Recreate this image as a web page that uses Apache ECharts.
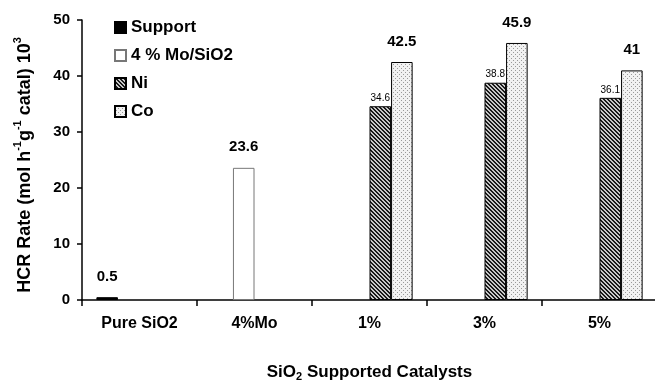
<!DOCTYPE html>
<html>
<head>
<meta charset="utf-8">
<script src="https://cdn.jsdelivr.net/npm/echarts@6/dist/echarts.min.js"></script>
<style>
html,body{margin:0;padding:0;background:#fff;}
#chart{width:655px;height:381px;}
</style>
</head>
<body>
<div id="chart"></div>
<script>
const categories = ['Pure SiO2', '4%Mo', '1%', '3%', '5%'];
const supportValues = [0.5, null, null, null, null];
const moValues = [null, 23.6, null, null, null];
const niValues = [null, null, 34.6, 38.8, 36.1];
const coValues = [null, null, 42.5, 45.9, 41];
const yTicks = { min: 0, max: 50, interval: 10 };

function makePattern(size, bg, fg, test) {
  const c = document.createElement('canvas');
  c.width = size; c.height = size;
  const ctx = c.getContext('2d');
  ctx.fillStyle = bg; ctx.fillRect(0, 0, size, size);
  ctx.fillStyle = fg;
  for (let x = 0; x < size; x++) for (let y = 0; y < size; y++) if (test(x, y)) ctx.fillRect(x, y, 1, 1);
  return { image: c, repeat: 'repeat' };
}
const hatch = makePattern(4, '#c8c8c8', '#1a1a1a', (x, y) => ((x - y + 8) % 4) < 2);
const dots = makePattern(4, '#f2f2f2', '#9a9a9a', (x, y) => (x === 1 && y === 0) || (x === 3 && y === 2));

const font = '"Liberation Sans", Arial, sans-serif';
const bigLabel = { show: true, position: 'top', distance: 13, fontFamily: font, fontWeight: 'bold', fontSize: 15, color: '#000' };

const chart = echarts.init(document.getElementById('chart'), null, { renderer: 'canvas' });
chart.setOption({
  animation: false,
  backgroundColor: '#fff',
  textStyle: { fontFamily: font },
  grid: { left: 82, top: 20, width: 575, bottom: 81, containLabel: false, outerBoundsMode: 'none' },
  legend: {
    orient: 'vertical', left: 109, top: 14, itemWidth: 11, itemHeight: 11, itemGap: 11, icon: 'rect',
    textStyle: { fontFamily: font, fontWeight: 'bold', fontSize: 17, color: '#000' },
    data: ['Support', '4 % Mo/SiO2', 'Ni', 'Co']
  },
  xAxis: {
    type: 'category', data: categories,
    axisLine: { lineStyle: { color: '#000', width: 1.5 } },
    axisTick: { show: true, length: 6, lineStyle: { color: '#000', width: 1.5 } },
    axisLabel: { margin: 16, fontFamily: font, fontWeight: 'bold', fontSize: 16, color: '#000' },
    name: '{n|SiO}{b|2}{n| Supported Catalysts}',
    nameLocation: 'middle', nameGap: 62,
    nameTextStyle: {
      rich: {
        n: { fontFamily: font, fontWeight: 'bold', fontSize: 17, color: '#000', lineHeight: 20, verticalAlign: 'middle' },
        b: { fontFamily: font, fontWeight: 'bold', fontSize: 11, color: '#000', lineHeight: 20, verticalAlign: 'bottom', padding: [7, 0, 0, 0] }
      }
    }
  },
  yAxis: {
    type: 'value', min: yTicks.min, max: yTicks.max, interval: yTicks.interval,
    splitLine: { show: false },
    axisLine: { show: true, lineStyle: { color: '#000', width: 1.5 } },
    axisTick: { show: true, length: 5, lineStyle: { color: '#000', width: 1.5 } },
    axisLabel: { margin: 12, fontFamily: font, fontWeight: 'bold', fontSize: 15, color: '#000' },
    name: '{n|HCR Rate (mol h}{s|-1}{n|g}{s|-1}{n| catal) 10}{s|3}',
    nameLocation: 'middle', nameGap: 48, nameRotate: 90,
    nameTextStyle: {
      padding: [0, 10, 0, 0],
      rich: {
        n: { fontFamily: font, fontWeight: 'bold', fontSize: 18, color: '#000', lineHeight: 22, verticalAlign: 'bottom' },
        s: { fontFamily: font, fontWeight: 'bold', fontSize: 11, color: '#000', lineHeight: 22, verticalAlign: 'top' }
      }
    }
  },
  series: [
    { name: 'Support', type: 'bar', data: supportValues, barGap: '0%', barCategoryGap: '25%',
      itemStyle: { color: '#000', borderColor: '#000', borderWidth: 1 }, label: bigLabel },
    { name: '4 % Mo/SiO2', type: 'bar', data: moValues,
      itemStyle: { color: '#fff', borderColor: '#777', borderWidth: 1 }, label: bigLabel },
    { name: 'Ni', type: 'bar', data: niValues,
      itemStyle: { color: hatch, borderColor: '#000', borderWidth: 1 },
      label: { show: true, position: 'top', distance: 3, fontFamily: font, fontSize: 10, color: '#000' } },
    { name: 'Co', type: 'bar', data: coValues,
      itemStyle: { color: dots, borderColor: '#000', borderWidth: 1 }, label: bigLabel }
  ]
});
</script>
</body>
</html>
